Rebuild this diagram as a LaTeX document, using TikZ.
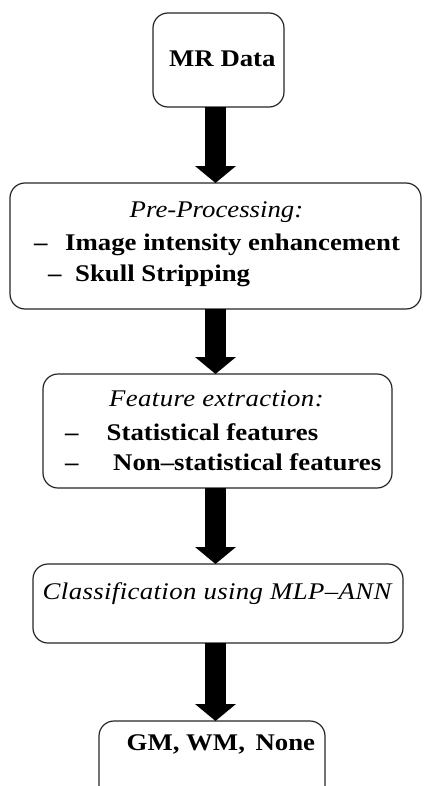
\documentclass[tikz,border=0pt]{standalone}
\usepackage{fontspec}
\setmainfont{Liberation Serif}[FakeStretch=1.12]
\usetikzlibrary{arrows.meta}

\tikzset{
  stage/.style={draw=black!85, line width=1.2bp, rounded corners=15bp,
    fill=white, inner sep=0pt},
  txt/.style={anchor=base west, inner sep=0pt, font=\fontsize{24}{28}\selectfont},
  btxt/.style={txt, font=\fontsize{24}{28}\selectfont\bfseries},
  itxt/.style={txt, font=\fontsize{24}{28}\selectfont\itshape},
  sitxt/.style={itxt, font=\fontsize{24}{28}\selectfont\itshape\addfontfeature{LetterSpace=1.6}},
  flow/.style={line width=21bp, draw=black,
    -{Triangle[width=40bp, length=17bp]}}
}

\begin{document}
\begin{tikzpicture}[x=1bp, y=-1bp]
  \useasboundingbox (0,0) rectangle (423,786);
  \clip (0,0) rectangle (423,786);

  % axis of the vertical flow arrows
  \coordinate (axis) at (215.5,0);

  % stage boxes, with anchor points for the arrows
  \draw[stage] (153,13) rectangle (284,107);
  \node[inner sep=0pt] (s1) at (218.5,107) {};
  \draw[stage] (10,183) rectangle (421,309);
  \node[inner sep=0pt] (s2in) at (215.5,183) {};
  \node[inner sep=0pt] (s2) at (215.5,309) {};
  \draw[stage] (43,374) rectangle (392,488);
  \node[inner sep=0pt] (s3in) at (217.5,374) {};
  \node[inner sep=0pt] (s3) at (217.5,488) {};
  \draw[stage] (33,564) rectangle (403,643);
  \node[inner sep=0pt] (s4in) at (218,564) {};
  \node[inner sep=0pt] (s4) at (218,643) {};
  \draw[stage] (99,721) rectangle (325,820);
  \node[inner sep=0pt] (s5in) at (212,721) {};

  % texts
  \node[btxt] (mr) at (169,66.7) {MR Data};

  \node[itxt, anchor=base] (pp) at (216.5,217.5) {Pre-Processing:};
  \node[btxt] (d1) at (34,250.5) {–};
  \node[btxt] (ie) at (65,250.5) {Image intensity enhancement};
  \node[btxt] (d2) at (48,281.5) {–};
  \node[btxt] (ss) at (75,281.5) {Skull Stripping};

  \node[sitxt] (fe) at (109,406.5) {Feature extraction:};
  \node[btxt] (d3) at (65,440) {–};
  \node[btxt] (sf) at (106.5,440) {Statistical features};
  \node[btxt] (d4) at (65,470) {–};
  \node[btxt] (nf) at (113,470) {Non–statistical features};

  \node[sitxt] (cl) at (42.5,599) {Classification using MLP–ANN};

  \node[btxt] (out) at (126.5,750) {GM, WM,\, None};

  % flow arrows
  \draw[flow] (s1 -| axis) -- (s2in -| axis);
  \draw[flow] (s2 -| axis) -- (s3in -| axis);
  \draw[flow] (s3 -| axis) -- (s4in -| axis);
  \draw[flow] (s4 -| axis) -- (s5in -| axis);
\end{tikzpicture}
\end{document}
